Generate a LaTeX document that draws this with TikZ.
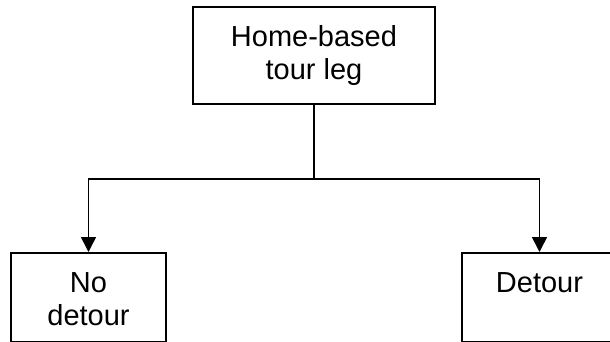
\documentclass[tikz,border=0pt]{standalone}
\usepackage{fontspec}
\setmainfont{Liberation Sans}
\usetikzlibrary{arrows.meta,positioning}
\newcommand{\leaftext}[1]{\begin{minipage}[t][89pt][t]{155pt}\centering\vspace*{20pt}#1\end{minipage}}
\tikzset{
    every node/.append style={align=center},
    rootbox/.style={rectangle,draw=black,line width=1.6pt,minimum width=242pt,
        minimum height=97pt,font=\fontsize{29}{33}\selectfont},
    leafbox/.style={rectangle,draw=black,line width=1.6pt,inner sep=0pt,anchor=north,
        font=\fontsize{29}{33}\selectfont},
    link/.style={line width=1.6pt},
    arr/.style={-{Triangle[length=15pt,width=15pt]},line width=1.6pt}
}
\begin{document}
\begin{tikzpicture}[x=1pt,y=-1pt]
    \useasboundingbox (0,0) rectangle (610,342);
    \node[rootbox] (leg) at (314,55.5) {Home-based\\tour leg};
    \node[leafbox] (nodetour) at (88.5,252) {\leaftext{No\\detour}};
    \node[leafbox] (detour) at (539.5,252) {\leaftext{Detour}};
    \coordinate (fork) at (314,179);

    \draw[link] (leg.south) -- (fork);
    \draw[arr] (fork) -| (nodetour.north);
    \draw[arr] (fork) -| (detour.north);
\end{tikzpicture}
\end{document}
